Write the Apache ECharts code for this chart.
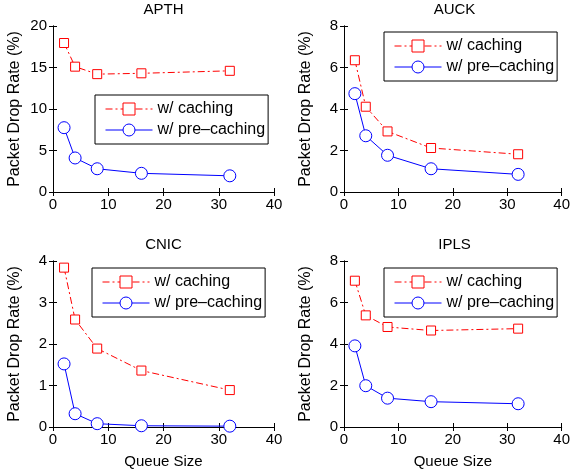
<!DOCTYPE html>
<html>
<head>
<meta charset="utf-8">
<script src="https://cdn.jsdelivr.net/npm/echarts@6/dist/echarts.min.js"></script>
<style>
html,body{margin:0;padding:0;background:#fff;}
#chart{width:573px;height:471px;}
</style>
</head>
<body>
<div id="chart"></div>
<script>
const queueSizes = [2, 4, 8, 16, 32];
const panelTitles = ['APTH', 'AUCK', 'CNIC', 'IPLS'];
const seriesNames = ['w/ caching', 'w/ pre–caching'];
const cachingAPTH = [17.95, 15.1, 14.2, 14.3, 14.6];
const precachingAPTH = [7.75, 4.1, 2.8, 2.25, 1.95];
const cachingAUCK = [6.35, 4.11, 2.92, 2.12, 1.82];
const precachingAUCK = [4.74, 2.71, 1.77, 1.12, 0.85];
const cachingCNIC = [3.84, 2.59, 1.89, 1.36, 0.89];
const precachingCNIC = [1.52, 0.32, 0.08, 0.03, 0.02];
const cachingIPLS = [7.05, 5.38, 4.82, 4.65, 4.74];
const precachingIPLS = [3.91, 1.99, 1.39, 1.22, 1.12];
const yMax = [20, 8, 4, 8];
const yInterval = [5, 2, 1, 2];
const xTicks = [0, 10, 20, 30, 40];

const caching = [cachingAPTH, cachingAUCK, cachingCNIC, cachingIPLS];
const precaching = [precachingAPTH, precachingAUCK, precachingCNIC, precachingIPLS];

const FONT = 'Liberation Sans, Arial, Helvetica, sans-serif';
const grids = [
  {left: 53, top: 26, width: 221, height: 166},
  {left: 344, top: 26, width: 221, height: 166},
  {left: 53, top: 261, width: 221, height: 166},
  {left: 344, top: 261, width: 221, height: 166}
];
const legendPos = [
  {left: 95, top: 95},
  {left: 384, top: 32},
  {left: 92, top: 268},
  {left: 384, top: 268}
];

const option = {
  animation: false,
  backgroundColor: '#fff',
  textStyle: {fontFamily: FONT},
  title: [], grid: [], xAxis: [], yAxis: [], series: [], legend: []
};

const axisLineStyle = {show: true, lineStyle: {color: '#000', width: 1}};
const tickStyle = {show: true, inside: true, length: 4, lineStyle: {color: '#000'}};

for (let i = 0; i < 4; i++) {
  const g = grids[i];
  option.grid.push({left: g.left, top: g.top, width: g.width, height: g.height, containLabel: false});
  option.title.push({
    text: panelTitles[i], left: g.left + g.width / 2, top: g.top - 24, textAlign: 'center', padding: 0,
    textStyle: {fontFamily: FONT, fontSize: 15, fontWeight: 'normal', color: '#000'}
  });
  const bottomRow = i >= 2;
  option.xAxis.push({
    type: 'value', gridIndex: i, min: 0, max: 40, interval: 10, position: 'bottom',
    axisLine: axisLineStyle, axisTick: tickStyle, splitLine: {show: false},
    axisLabel: {color: '#000', fontSize: 15, fontFamily: FONT, margin: 5},
    name: bottomRow ? 'Queue Size' : '', nameLocation: 'middle', nameGap: 27,
    nameTextStyle: {color: '#000', fontSize: 15, fontFamily: FONT}
  });
  option.xAxis.push({
    type: 'value', gridIndex: i, min: 0, max: 40, interval: 10, position: 'top',
    axisLine: axisLineStyle, axisTick: tickStyle, splitLine: {show: false},
    axisLabel: {show: false}
  });
  option.yAxis.push({
    type: 'value', gridIndex: i, min: 0, max: yMax[i], interval: yInterval[i], position: 'left',
    axisLine: axisLineStyle, axisTick: tickStyle, splitLine: {show: false},
    axisLabel: {color: '#000', fontSize: 15, fontFamily: FONT, margin: 6},
    name: 'Packet Drop Rate (%)', nameLocation: 'middle', nameGap: 30,
    nameTextStyle: {color: '#000', fontSize: 16, fontFamily: FONT}
  });
  option.yAxis.push({
    type: 'value', gridIndex: i, min: 0, max: yMax[i], interval: yInterval[i], position: 'right',
    axisLine: axisLineStyle, axisTick: tickStyle, splitLine: {show: false},
    axisLabel: {show: false}
  });
  const cData = queueSizes.map((q, k) => [q, caching[i][k]]);
  const pData = queueSizes.map((q, k) => [q, precaching[i][k]]);
  option.series.push({
    type: 'line', name: seriesNames[0], xAxisIndex: 2 * i, yAxisIndex: 2 * i, data: cData,
    symbol: 'rect', symbolSize: 9,
    itemStyle: {color: '#fff', borderColor: '#ff0000', borderWidth: 1},
    lineStyle: {color: '#ff0000', width: 1, type: [7, 3, 2, 3]},
    emphasis: {disabled: true}, z: 3
  });
  option.series.push({
    type: 'line', name: seriesNames[1], xAxisIndex: 2 * i, yAxisIndex: 2 * i, data: pData,
    symbol: 'circle', symbolSize: 12,
    itemStyle: {color: '#fff', borderColor: '#0000ff', borderWidth: 1},
    lineStyle: {color: '#0000ff', width: 1, type: 'solid'},
    emphasis: {disabled: true}, z: 3
  });
  option.legend.push({
    data: seriesNames, orient: 'vertical', left: legendPos[i].left, top: legendPos[i].top,
    padding: [6, 3, 6, 10], itemWidth: 47, itemHeight: 15, itemGap: 5,
    backgroundColor: '#fff', borderColor: '#000', borderWidth: 1, borderRadius: 0,
    selectedMode: false, z: 10,
    itemStyle: {borderWidth: 1},
    lineStyle: {width: 1},
    textStyle: {color: '#000', fontSize: 16, fontFamily: FONT}
  });
}

const chart = echarts.init(document.getElementById('chart'), null, {renderer: 'canvas'});
chart.setOption(option);
</script>
</body>
</html>
